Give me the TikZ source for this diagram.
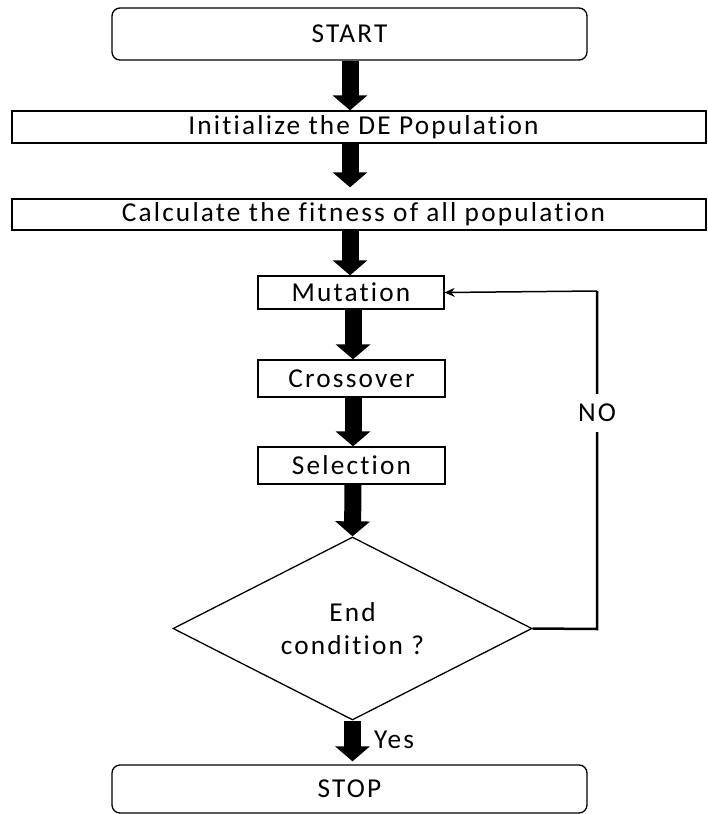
\documentclass[tikz,border=0pt]{standalone}
\usepackage{fontspec}
\setmainfont{Carlito}[LetterSpace=8,Ligatures=NoCommon]
\usetikzlibrary{arrows.meta,shapes.geometric}
\tikzset{
  box/.style={draw, line width=1.3pt, inner sep=0pt, font=\fontsize{27.3}{32}\selectfont},
  rbox/.style={box, rounded corners=8pt},
  bigarrow/.style={line width=17pt, -{Triangle[length=15pt,width=34pt]}},
  loopline/.style={line width=2.5pt},
  txt/.style={font=\fontsize{27.3}{32}\selectfont, inner sep=1pt}
}
\begin{document}
\begin{tikzpicture}[x=1pt,y=-1pt]
\useasboundingbox (0,0) rectangle (707,814);
\node[rbox, minimum width=475pt, minimum height=52pt] (start) at (349.5,34) {START};
\node[box, minimum width=694pt, minimum height=32pt] (init) at (359,127) {\hspace*{9pt}Initialize the DE Population};
\node[box, minimum width=694pt, minimum height=31pt] (calc) at (359,214.5) {\hspace*{9pt}Calculate the fitness of all population};
\node[box, minimum width=186pt, minimum height=33pt] (mut) at (351,292.5) {Mutation};
\node[box, minimum width=187pt, minimum height=37pt] (cross) at (351.5,378.5) {Crossover};
\node[box, minimum width=187pt, minimum height=37pt] (sel) at (351.5,465.5) {Selection};
\node[draw, line width=1.3pt, diamond, aspect=1.96, minimum width=359pt, minimum height=183pt, inner sep=0pt, align=center, font=\fontsize{27.3}{33}\selectfont] (end) at (352.5,628.5) {End\\condition ?};
\node[rbox, minimum width=475pt, minimum height=48pt] (stop) at (349.5,789) {STOP};
\coordinate (c1) at (597,629);
\coordinate (c2) at (597,291);
\draw[bigarrow] (start.south -| 350,0) -- (init.north -| 350,0);
\draw[bigarrow, shorten >=11pt] (init.south -| 350,0) -- (calc.north -| 350,0);
\draw[bigarrow] (calc.south -| 350,0) -- (mut.north -| 350,0);
\draw[bigarrow] (mut.south -| 353,0) -- (cross.north -| 353,0);
\draw[bigarrow] (cross.south -| 353,0) -- (sel.north -| 353,0);
\draw[bigarrow] (sel.south -| 353,0) -- (end.north);
\draw[bigarrow, shorten >=3pt] (end.south) -- (stop.north -| end.south) node[txt, pos=0.45, anchor=west, xshift=12pt] (yes) {Yes};
\draw[loopline] (end.east) -- (c1) -- (c2) node[txt, pos=0.64, fill=white, inner ysep=10pt] (no) {NO};
\draw[line width=1.5pt, -{Stealth[length=10pt,width=9pt]}] (c2) -- (mut.east);
\end{tikzpicture}
\end{document}
